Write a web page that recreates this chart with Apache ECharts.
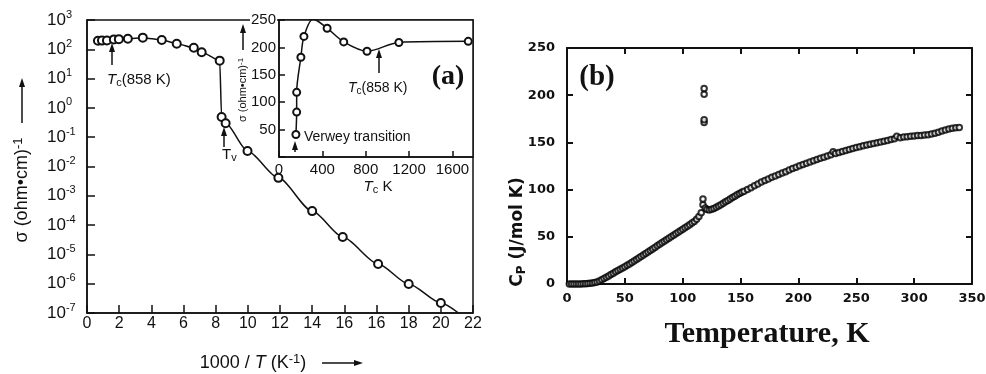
<!DOCTYPE html>
<html>
<head>
<meta charset="utf-8">
<script src="https://cdn.jsdelivr.net/npm/echarts@6/dist/echarts.min.js"></script>
<style>
  html, body {margin: 0; padding: 0; background: #fff;}
  #chart {width: 986px; height: 374px;}
</style>
</head>
<body>
<div id="chart"></div>
<script>
// (a) main plot: conductivity vs 1000/T, x given in axis units (labels as printed)
const xTicksA = ['0', '2', '4', '6', '8', '10', '12', '14', '16', '16', '18', '20', '22'];
const xA = [0.68, 0.93, 1.24, 1.67, 1.98, 2.54, 3.47, 4.65, 5.58, 6.64, 7.13, 8.25, 8.37, 8.62, 9.98, 11.9, 14.0, 15.9, 18.1, 20.0, 22.0, 23.1];
const sigmaA = [196, 198, 200, 218, 222, 230, 250, 209, 155, 113, 79, 41, 0.49, 0.30, 0.034, 0.0041, 3.0e-4, 3.9e-5, 4.7e-6, 9.8e-7, 2.2e-7, 1e-7];

// (a) inset: conductivity vs Tc
const tInset = [156, 163, 163, 202, 230, 315, 444, 597, 812, 1106, 1746];
const sigmaInset = [41, 82, 118, 182, 220, 252, 235, 210, 193, 209, 211];

// (b) heat capacity vs temperature
const tempB = [2, 4, 6, 8, 10, 12, 14, 16, 18, 20, 22, 24, 26, 28, 30, 32, 34, 36, 38, 40,
  42, 44, 46, 48, 50, 52, 54, 56, 58, 60, 62, 64, 66, 68, 70, 72, 74, 76, 78, 80,
  82, 84, 86, 88, 90, 92, 94, 96, 98, 100, 102, 104, 106, 108, 110, 112, 114, 116,
  117.5, 117.5, 118.5, 118.5, 118.5, 118.5,
  119.5, 121, 123, 125, 127, 129, 131, 133, 135, 137, 139, 141, 143, 145, 147, 149, 151, 153,
  156, 159, 162, 165, 168, 171, 174, 177, 180, 183, 186, 189, 192, 195, 198, 201, 204, 207,
  210, 213, 216, 219, 222, 225, 228, 230, 232, 235, 238, 241, 244, 247, 250, 253, 256, 259,
  262, 265, 268, 271, 274, 277, 280, 283, 285, 288, 291, 294, 297, 300, 303, 306, 309, 312,
  315, 318, 321, 324, 327, 330, 333, 336, 339];
const cpB = [0, 0, 0, 0, 0, 0.1, 0.2, 0.3, 0.5, 0.7, 1.0, 1.5, 2.2, 3.2, 4.5, 5.8, 7.2, 8.6, 10, 11.5,
  13, 14.4, 15.6, 16.9, 18.2, 19.8, 21.3, 22.8, 24.3, 25.9, 27.5, 29.1, 30.7, 32.3, 33.9, 35.5, 37.1, 38.7, 40.4, 42,
  43.7, 45.3, 46.9, 48.5, 50.1, 51.7, 53.2, 54.8, 56.4, 58, 59.6, 61.2, 62.8, 64.5, 66.2, 68.5, 71.5, 75.5,
  84, 90, 171, 174, 201, 207,
  80.5, 79, 78.5, 79.2, 80, 81.2, 82.5, 84, 85.5, 87, 88.5, 90, 91.5, 93, 94.5, 96, 97.2, 98.3,
  100, 102, 104, 106, 108, 109.6, 111.3, 113, 114.5, 116, 117.5, 119, 120.8, 122.3, 123.8, 125.2, 126.7, 128,
  129.3, 130.6, 131.9, 133.2, 134.4, 135.6, 137, 140, 138.2, 139.3, 140.4, 141.5, 142.6, 143.6, 144.5, 145.5, 146.5, 147.3,
  148, 148.8, 149.7, 150.5, 151.3, 152.1, 153, 153.8, 156.5, 155, 155.6, 156, 156.4, 156.8, 157.2, 157.4, 157.8, 158.2,
  158.8, 159.6, 160.8, 162, 163.2, 164.2, 165, 165.6, 165.8];

const ink = '#111';
const sans = 'Liberation Sans';
const bold = 'DejaVu Sans';
const serif = 'Liberation Serif';

const chart = echarts.init(document.getElementById('chart'));

function upArrow(x, tip, tail) {
  return [
    {type: 'line', shape: {x1: x, y1: tail, x2: x, y2: tip + 6}, style: {stroke: ink, lineWidth: 1.5}},
    {type: 'polygon', shape: {points: [[x, tip], [x - 3, tip + 9], [x + 3, tip + 9]]}, style: {fill: ink}}
  ];
}
function rightArrow(y, tail, tip) {
  return [
    {type: 'line', shape: {x1: tail, y1: y, x2: tip - 6, y2: y}, style: {stroke: ink, lineWidth: 1.5}},
    {type: 'polygon', shape: {points: [[tip, y], [tip - 9, y - 3], [tip - 9, y + 3]]}, style: {fill: ink}}
  ];
}
function txt(x, y, text, fontSize, align, rotation) {
  return {
    type: 'text', x, y, rotation: rotation || 0,
    style: {
      text, fill: ink, font: fontSize + 'px "' + sans + '"', align: align || 'left', verticalAlign: 'middle',
      rich: {
        it: {fontSize, fontFamily: sans, fontStyle: 'italic', fill: ink},
        sub: {fontSize: Math.round(fontSize * 0.7), fontFamily: sans, fill: ink, verticalAlign: 'bottom', lineHeight: fontSize + 2},
        s: {fontSize: Math.round(fontSize * 0.7), fontFamily: sans, fill: ink, verticalAlign: 'top', lineHeight: fontSize + 2}
      }
    }
  };
}
function bigText(x, y, text, size) {
  return {type: 'text', x, y, style: {text, fill: ink, font: 'bold ' + size + 'px "' + serif + '"', align: 'center', verticalAlign: 'middle'}};
}

const tickStyle = {color: ink, width: 1.5};
const supRich = {
  b: {fontSize: 17, fontFamily: sans, color: ink, lineHeight: 22},
  s: {fontSize: 11, fontFamily: sans, color: ink, verticalAlign: 'top', lineHeight: 22}
};
const bLabel = {fontFamily: bold, fontWeight: 'bold', fontSize: 13, color: ink};
const lineA = {onZero: false, lineStyle: tickStyle};
const lineB = {onZero: false, lineStyle: {color: ink, width: 2}};
const tickB = {inside: true, length: 6, lineStyle: {color: ink, width: 2}};

chart.setOption({
  animation: false,
  grid: [
    {left: 87, top: 20, width: 386, height: 293, show: true, borderColor: ink, borderWidth: 1.5, outerBoundsMode: 'none'},
    {left: 279, top: 20, width: 194, height: 137, show: true, backgroundColor: '#fff', borderColor: ink, borderWidth: 1.5, outerBoundsMode: 'none'},
    {left: 567, top: 48, width: 405, height: 236, show: false, outerBoundsMode: 'none'}
  ],
  xAxis: [
    {
      gridIndex: 0, type: 'value', min: 0, max: 24, interval: 2,
      axisLine: lineA, axisTick: {inside: true, length: 8, lineStyle: tickStyle},
      splitLine: {show: false},
      axisLabel: {margin: 3, fontSize: 16, fontFamily: sans, color: ink,
        formatter: (v) => xTicksA[Math.round(v / 2)] || ''}
    },
    {
      gridIndex: 1, type: 'value', min: 0, max: 1790, interval: 400,
      axisLine: lineA, axisTick: {inside: true, length: 6, lineStyle: tickStyle},
      splitLine: {show: false},
      axisLabel: {margin: 5, fontSize: 15, fontFamily: sans, color: ink, showMaxLabel: false,
        formatter: (v) => (v % 400 === 0 ? String(v) : '')}
    },
    {
      gridIndex: 2, type: 'value', min: 0, max: 350, interval: 50,
      axisLine: lineB, axisTick: tickB, splitLine: {show: false},
      axisLabel: Object.assign({margin: 8}, bLabel)
    },
    {
      gridIndex: 2, type: 'value', position: 'top', min: 0, max: 350, interval: 50,
      axisLine: lineB, axisTick: tickB, splitLine: {show: false}, axisLabel: {show: false}
    }
  ],
  yAxis: [
    {
      gridIndex: 0, type: 'value', min: -7, max: 3, interval: 1,
      axisLine: lineA, axisTick: {inside: true, length: 8, lineStyle: tickStyle},
      splitLine: {show: false},
      axisLabel: {margin: 40, align: 'left', rich: supRich,
        formatter: (v) => '{b|10}{s|' + v + '}'}
    },
    {
      gridIndex: 1, type: 'value', min: 0, max: 250, interval: 50,
      axisLine: lineA, axisTick: {inside: true, length: 6, lineStyle: tickStyle},
      splitLine: {show: false},
      axisLabel: {margin: 2, fontSize: 15, fontFamily: sans, color: ink, backgroundColor: '#fff', padding: [0, 1],
        formatter: (v) => (v === 0 ? '' : String(v))}
    },
    {
      gridIndex: 2, type: 'value', min: 0, max: 250, interval: 50,
      axisLine: lineB, axisTick: tickB, splitLine: {show: false},
      axisLabel: Object.assign({margin: 12}, bLabel)
    },
    {
      gridIndex: 2, type: 'value', position: 'right', min: 0, max: 250, interval: 50,
      axisLine: lineB, axisTick: tickB, splitLine: {show: false}, axisLabel: {show: false}
    }
  ],
  series: [
    {
      type: 'line', xAxisIndex: 0, yAxisIndex: 0,
      smooth: 0.25, smoothMonotone: 'x',
      symbol: 'emptyCircle', symbolSize: 8,
      lineStyle: {color: ink, width: 1.5},
      itemStyle: {color: ink, borderWidth: 1.3},
      data: xA.map((x, i) => (i === xA.length - 1
        ? {value: [x, Math.log10(sigmaA[i])], symbol: 'none'}
        : [x, Math.log10(sigmaA[i])]))
    },
    {
      type: 'line', xAxisIndex: 1, yAxisIndex: 1,
      smooth: 0.3,
      symbol: 'emptyCircle', symbolSize: 7,
      lineStyle: {color: ink, width: 1.5},
      itemStyle: {color: ink, borderWidth: 1.3},
      data: tInset.map((t, i) => [t, sigmaInset[i]])
    },
    {
      type: 'scatter', xAxisIndex: 2, yAxisIndex: 2,
      symbol: 'emptyCircle', symbolSize: 5.5,
      itemStyle: {color: '#000', borderWidth: 1.5},
      data: tempB.map((t, i) => [t, cpB[i]])
    }
  ],
  graphic: [
    // (a) main axis names
    txt(22, 190, 'σ (ohm•cm){s|-1}', 18, 'center', Math.PI / 2),
    ...upArrow(22, 78, 123),
    txt(253, 363, '1000 / {it|T} (K{s|-1})', 18, 'center'),
    ...rightArrow(363, 322, 363),
    // (a) main annotations
    txt(107, 80, '{it|T}{sub|c}(858 K)', 15),
    ...upArrow(112, 43, 65),
    txt(222, 155, 'T{sub|v}', 15),
    ...upArrow(224, 127, 147),
    // inset names and annotations
    txt(243, 90, 'σ (ohm•cm){s|-1}', 11, 'center', Math.PI / 2),
    ...upArrow(243, 24, 50),
    txt(378, 187, '{it|T}{sub|c} K', 15, 'center'),
    txt(348, 88, '{it|T}{sub|c}(858 K)', 14),
    ...upArrow(379, 49, 73),
    txt(304, 137, 'Verwey transition', 14),
    ...upArrow(295, 141, 152),
    // panel letters
    bigText(448, 77, '(a)', 28),
    bigText(597, 78, '(b)', 29),
    // (b) axis names
    bigText(767, 334, 'Temperature, K', 30),
    {type: 'text', x: 518, y: 232, rotation: Math.PI / 2, style: {
      text: 'C{sub|P} (J/mol K)', fill: ink, font: 'bold 17px "' + bold + '"', align: 'center', verticalAlign: 'middle',
      rich: {sub: {fontSize: 12, fontWeight: 'bold', fontFamily: bold, fill: ink, verticalAlign: 'bottom', lineHeight: 19}}
    }}
  ].map((el) => Object.assign({z: 100}, el))
});
</script>
</body>
</html>
